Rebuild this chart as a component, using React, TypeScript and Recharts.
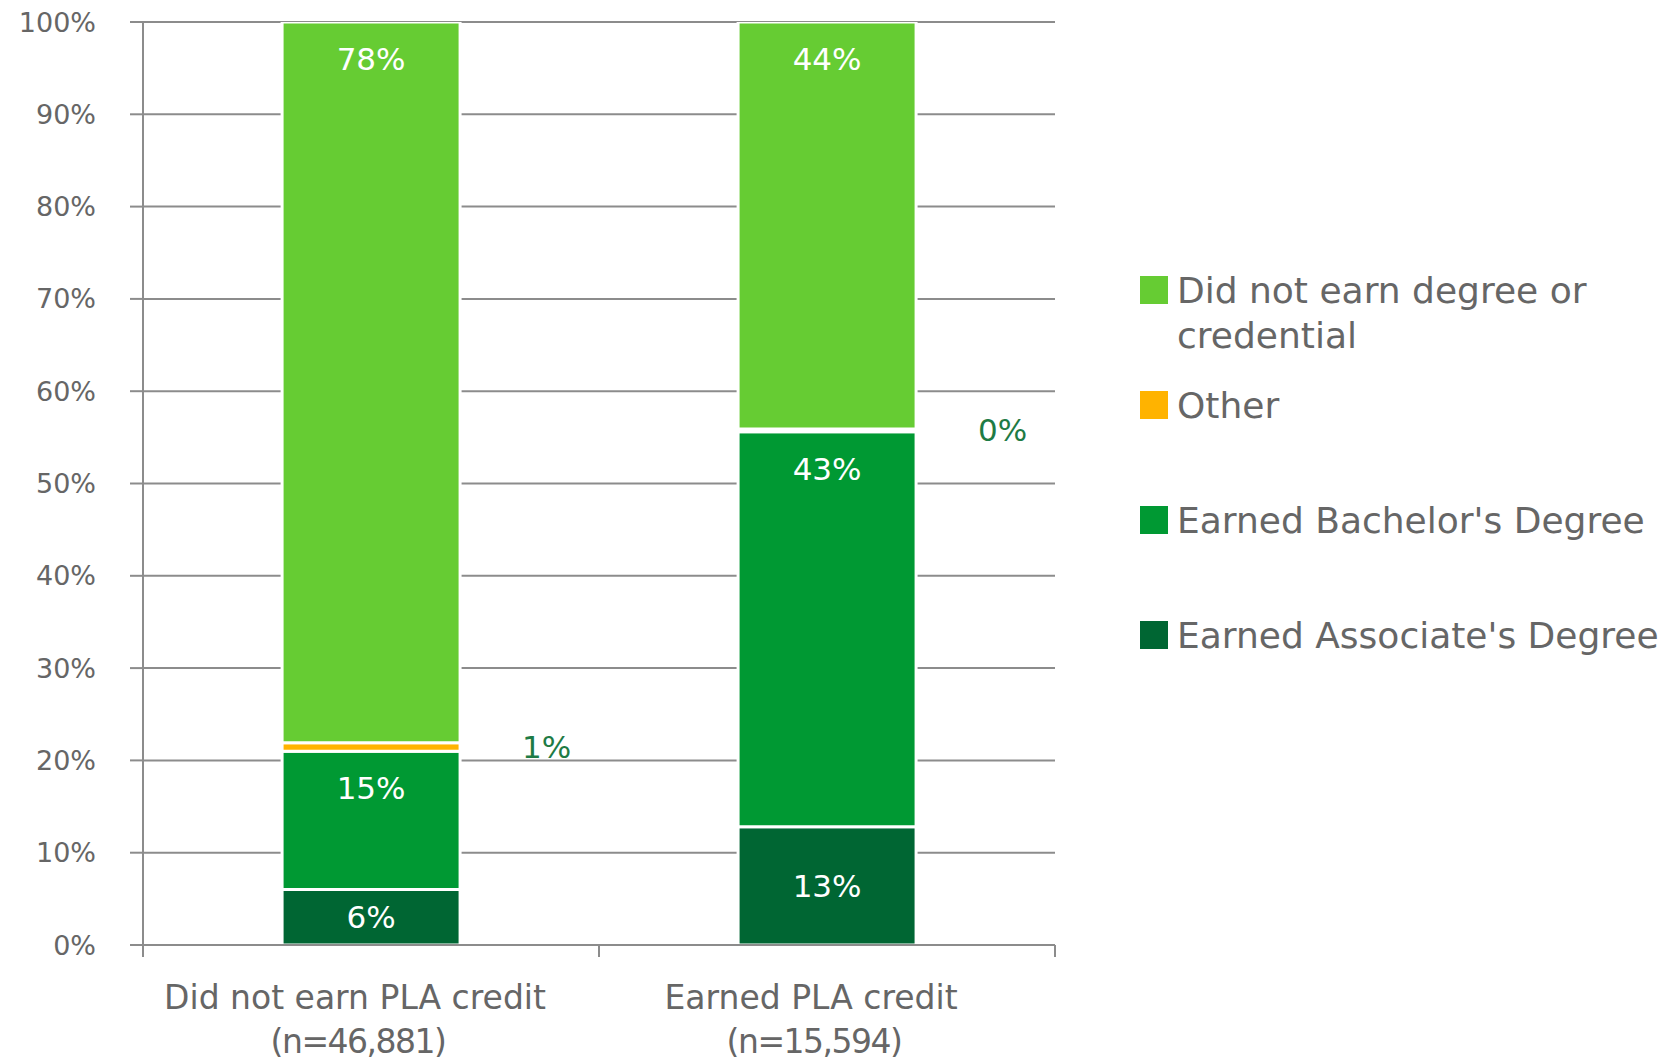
import React from 'react';
import { BarChart, Bar, XAxis, YAxis, CartesianGrid, LabelList, Legend } from 'recharts';

const categories = ['Did not earn PLA credit', 'Earned PLA credit'];
const sampleSizes = ['(n=46,881)', '(n=15,594)'];
const associate = [6.0, 12.8];
const bachelor = [15.0, 42.8];
const other = [0.9, 0.3];
const noDegree = [78.1, 44.1];
const associateLabels = ['6%', '13%'];
const bachelorLabels = ['15%', '43%'];
const otherLabels = ['1%', '0%'];
const noDegreeLabels = ['78%', '44%'];
const yTicks = [0, 10, 20, 30, 40, 50, 60, 70, 80, 90, 100];
const edgeTicks = [0, 1, 2];

const seriesNames = {
  associate: "Earned Associate's Degree",
  bachelor: "Earned Bachelor's Degree",
  other: 'Other',
  noDegree: 'Did not earn degree or credential',
};
const legendOrder = [seriesNames.noDegree, seriesNames.other, seriesNames.bachelor, seriesNames.associate];
const colors = {
  associate: '#006633',
  bachelor: '#009933',
  other: '#FFB300',
  noDegree: '#66CC33',
};

const data = categories.map((c, i) => ({
  name: c,
  n: sampleSizes[i],
  associate: associate[i],
  bachelor: bachelor[i],
  other: other[i],
  noDegree: noDegree[i],
  aLbl: associateLabels[i],
  bLbl: bachelorLabels[i],
  oLbl: otherLabels[i],
  ndLbl: noDegreeLabels[i],
}));

const FONT = 'DejaVu Sans';
const GRID = '#8c8c8c';
const TEXT = '#666666';

const CategoryTick = (props: any) => {
  const { x, y, payload, index } = props;
  const row = data[index] || data.find((d) => d.name === payload.value);
  const half = payload && typeof payload.offset === 'number' ? payload.offset : null;
  return (
    <g transform={`translate(${x},${y})`}>
      {half !== null && index > 0 && (
        <line x1={-half} x2={-half} y1={-1} y2={11} stroke={GRID} strokeWidth={2} />
      )}
      <text textAnchor="middle" fill={TEXT} fontSize={33} fontFamily={FONT}>
        <tspan x={-16} dy={63}>{payload.value}</tspan>
        <tspan x={-13} dy={44} letterSpacing={-1.5}>{row ? row.n : ''}</tspan>
      </text>
    </g>
  );
};

const LegendContent = (props: any) => {
  const payload = props.payload || [];
  const items = legendOrder
    .map((name) => payload.find((p: any) => p.value === name))
    .filter(Boolean);
  return (
    <div style={{ fontFamily: FONT, fontSize: 36, color: TEXT }}>
      {items.map((it: any) => (
        <div key={it.value} style={{ display: 'flex', alignItems: 'flex-start', height: 115 }}>
          <div style={{ width: 28, height: 28, background: it.color, marginTop: 8, marginRight: 9, flex: '0 0 auto' }} />
          <div style={{ width: 490, lineHeight: '45px' }}>{it.value}</div>
        </div>
      ))}
    </div>
  );
};

export default function App() {
  return (
    <div style={{ position: 'absolute', left: 0, top: 0, width: 1663, height: 1064, background: '#fff', fontFamily: FONT }}>
      <BarChart
        width={1663}
        height={1064}
        data={data}
        margin={{ top: 22, right: 608, bottom: 9, left: 0 }}
        barCategoryGap="30.5%"
      >
        <CartesianGrid vertical={false} stroke={GRID} strokeWidth={2} />
        <XAxis
          xAxisId={0}
          type="number"
          domain={[0, 2]}
          ticks={edgeTicks}
          interval={0}
          tickFormatter={() => ''}
          tickSize={12}
          axisLine={{ stroke: GRID, strokeWidth: 2 }}
          tickLine={{ stroke: GRID, strokeWidth: 2 }}
          height={1}
        />
        <XAxis
          xAxisId="cat"
          dataKey="name"
          tickLine={false}
          tickSize={0}
          tickMargin={0}
          height={109}
          axisLine={false}
          tick={<CategoryTick />}
          interval={0}
        />
        <YAxis
          width={143}
          domain={[0, 100]}
          ticks={yTicks}
          tickFormatter={(v: number) => `${v}%`}
          tickSize={13}
          tickMargin={34}
          axisLine={{ stroke: GRID, strokeWidth: 2 }}
          tickLine={{ stroke: GRID, strokeWidth: 2 }}
          tick={{ fill: TEXT, fontSize: 27, fontFamily: FONT }}
          allowDataOverflow
        />
        <Legend
          layout="horizontal"
          verticalAlign="middle"
          align="center"
          content={<LegendContent />}
          wrapperStyle={{ left: 1140, top: 268, right: 'auto', bottom: 'auto', width: 523, height: 470 }}
        />
        <Bar xAxisId="cat" dataKey="associate" name={seriesNames.associate} stackId="s" fill={colors.associate} stroke="#fff" strokeWidth={3} isAnimationActive={false}>
          <LabelList dataKey="aLbl" position="center" fill="#fff" fontSize={31} fontFamily={FONT} />
        </Bar>
        <Bar xAxisId="cat" dataKey="bachelor" name={seriesNames.bachelor} stackId="s" fill={colors.bachelor} stroke="#fff" strokeWidth={3} isAnimationActive={false}>
          <LabelList dataKey="bLbl" position="insideTop" offset={26} fill="#fff" fontSize={31} fontFamily={FONT} />
        </Bar>
        <Bar xAxisId="cat" dataKey="other" name={seriesNames.other} stackId="s" fill={colors.other} stroke="#fff" strokeWidth={3} isAnimationActive={false}>
          <LabelList dataKey="oLbl" position="right" offset={62} fill="#1e7b45" fontSize={31} fontFamily={FONT} />
        </Bar>
        <Bar xAxisId="cat" dataKey="noDegree" name={seriesNames.noDegree} stackId="s" fill={colors.noDegree} stroke="#fff" strokeWidth={3} isAnimationActive={false}>
          <LabelList dataKey="ndLbl" position="insideTop" offset={26} fill="#fff" fontSize={31} fontFamily={FONT} />
        </Bar>
      </BarChart>
    </div>
  );
}
